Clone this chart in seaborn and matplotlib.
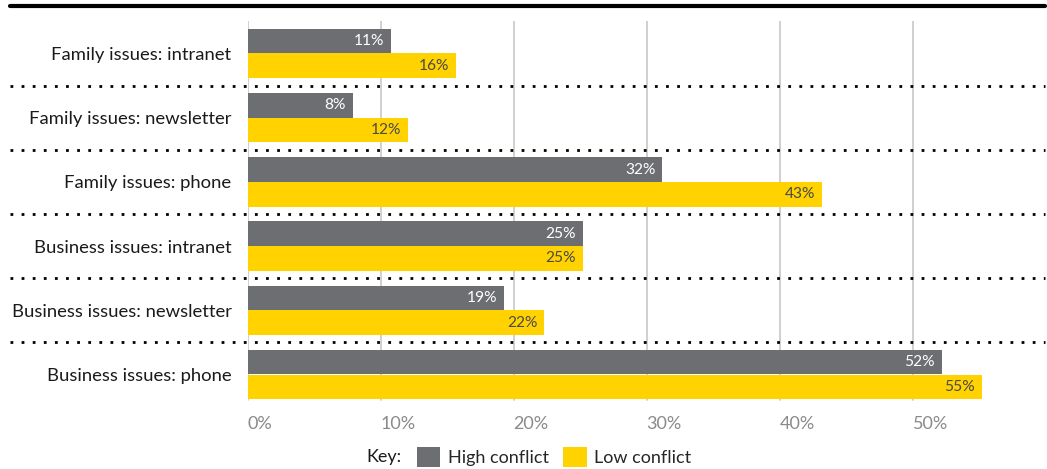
import matplotlib
matplotlib.use("Agg")
import matplotlib.pyplot as plt
import matplotlib.transforms as mtransforms
from matplotlib.patches import Patch
import seaborn as sns
import pandas as pd

categories = [
    "Family issues: intranet",
    "Family issues: newsletter",
    "Family issues: phone",
    "Business issues: intranet",
    "Business issues: newsletter",
    "Business issues: phone",
]
# bar lengths
high_conflict = [10.8, 7.9, 31.2, 25.2, 19.3, 52.2]
low_conflict = [15.7, 12.1, 43.2, 25.2, 22.3, 55.2]
# printed labels
high_labels = ["11%", "8%", "32%", "25%", "19%", "52%"]
low_labels = ["16%", "12%", "43%", "25%", "22%", "55%"]
series_names = ["High conflict", "Low conflict"]
x_ticks = [0, 10, 20, 30, 40, 50]
x_tick_labels = ["0%", "10%", "20%", "30%", "40%", "50%"]

GRAY = "#6d6e71"
YELLOW = "#ffd200"

df = pd.DataFrame({
    "category": categories * 2,
    "value": high_conflict + low_conflict,
    "series": [series_names[0]] * len(categories) + [series_names[1]] * len(categories),
})

sns.set_theme(style="white")
plt.rcParams["font.family"] = ["Lato", "DejaVu Sans"]

fig = plt.figure(figsize=(10.47, 4.69), dpi=100)
W, H = 1047, 469
left_px, top_px, bottom_px = 247.5, 21.4, 406.6
xmax = 60
px_per_unit = 13.3
ax = fig.add_axes([left_px / W, (H - bottom_px) / H,
                   xmax * px_per_unit / W, (bottom_px - top_px) / H])

sns.barplot(data=df, y="category", x="value", hue="series", orient="h",
            palette=[GRAY, YELLOW], width=0.77, saturation=1, ax=ax,
            legend=False, order=categories, hue_order=series_names,
            linewidth=0, edgecolor="none")

ax.set_xlim(0, xmax)
ax.set_ylim(len(categories) - 0.5, -0.5)
ax.set_xlabel("")
ax.set_ylabel("")
for s in ax.spines.values():
    s.set_visible(False)

# vertical gridlines
for t in x_ticks:
    ax.axvline(t, ymin=(bottom_px - 400) / (bottom_px - top_px), ymax=1,
               color="#c8c8c8", lw=1.2, zorder=0)

ax.set_xticks(x_ticks)
ax.set_xticklabels(x_tick_labels, ha="left", color="#8a8a8a", fontsize=13)
ax.tick_params(axis="x", length=0, pad=7)
ax.tick_params(axis="y", length=0, pad=11.5, labelsize=13.3, labelcolor="#1a1a1a")

# value labels
for container, labels, color in zip(ax.containers, [high_labels, low_labels],
                                    ["white", "#4a4a4a"]):
    ax.bar_label(container, labels=labels, padding=-5, color=color,
                 fontsize=11.2)
for txt in ax.texts:
    txt.set_ha("right")

# dotted separators across the figure
blend = mtransforms.blended_transform_factory(fig.transFigure, ax.transData)
for i in range(len(categories) - 1):
    y = i + 0.5
    ax.plot([10 / W, 1045 / W], [y, y], transform=blend, clip_on=False,
            color="black", lw=2, linestyle=(0, (1, 3)), zorder=5)

# top rule
fig.add_artist(plt.Line2D([10 / W, 1045 / W], [(H - 6) / H] * 2,
                          color="black", lw=3))

# legend
fig.text(366 / W, (H - 457) / H, "Key:", fontsize=13, color="#1a1a1a",
         va="center", ha="left")
handles = [Patch(facecolor=GRAY, edgecolor="none"),
           Patch(facecolor=YELLOW, edgecolor="none")]
fig.legend(handles, series_names, loc="center left",
           bbox_to_anchor=(417 / W, (H - 457) / H), ncol=2, frameon=False,
           fontsize=13, handlelength=1.3, handleheight=1.3, handletextpad=0.4,
           columnspacing=0.8, borderaxespad=0, borderpad=0)

fig.savefig("out.png", dpi=100)
